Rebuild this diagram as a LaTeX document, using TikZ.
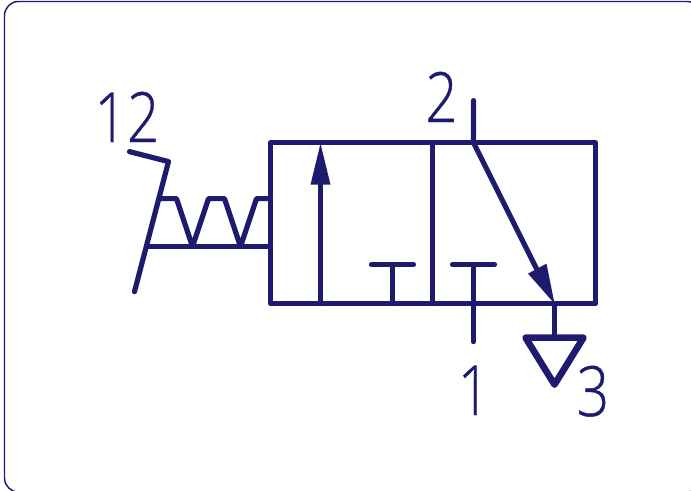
\documentclass[tikz,border=0pt]{standalone}
\usepackage{fontspec}
\usepackage{graphicx}
\setmainfont[FakeBold=0.6]{Open Sans Light}
\definecolor{ink}{RGB}{30,27,110}
\tikzset{
  sym/.style={draw=ink,line width=3.9pt,line cap=round,line join=round},
  frame/.style={draw=ink,line width=1.1pt,rounded corners=10.5pt},
  head/.style={fill=ink,draw=none},
  num/.style={text=ink,font=\fontsize{52}{52}\selectfont,inner sep=0pt,anchor=base}
}
\newcommand{\narrow}[1]{\scalebox{0.82}[1]{#1}}
\begin{document}
\begin{tikzpicture}[x=0.75pt,y=-0.75pt]
\useasboundingbox (0,0) rectangle (691,490);
\draw[frame] (4.5,1.5) rectangle (701,492);
\begin{scope}[shift={(0.5,0.6)}]
% named points
\coordinate (tl) at (270,142);
\coordinate (tr) at (595,142);
\coordinate (br) at (595,303);
\coordinate (bl) at (270,303);
\coordinate (dt) at (432,142);
\coordinate (db) at (432,303);
\coordinate (p2) at (473,100);
\coordinate (p2b) at (473,142);
\coordinate (p1) at (473,341);
\coordinate (t1) at (473,264);
\coordinate (ex) at (554,303);
\coordinate (ext) at (554,336);
% valve body
\draw[sym] (tl) -- (tr) -- (br) -- (bl) -- cycle;
\draw[sym] (dt) -- (db);
% left cell
\draw[sym] (320,303) -- (320,175);
\fill[head] (320,143) -- (330,184) -- (310,184) -- cycle;
\draw[sym] (392,303) -- (392,264);
\draw[sym] (371,264) -- (413,264);
% right cell
\draw[sym] (p2) -- (p2b) -- (540,276);
\fill[head] (554,303) -- (527.5,273) -- (546,263) -- cycle;
\draw[sym] (452,264) -- (494,264);
\draw[sym] (t1) -- (p1);
% exhaust
\draw[sym] (ex) -- (ext);
\draw[sym,line width=5pt] (525,337) -- (583,337) -- (554,384) -- cycle;
% lever and spring
\draw[sym] (129,151) -- (168,161) -- (134,291);
\draw[sym] (147,246) -- (270,246);
\draw[sym] (160,198) -- (176,198) -- (192,246) -- (208,198) -- (224,198) -- (240,246) -- (256,198) -- (270,198);
\end{scope}
% labels
\node[num] (n12) at (127,142) {\narrow{12}};
\node[num] (n2) at (441.5,122) {\narrow{2}};
\node[num] (n1) at (474,415) {\narrow{1}};
\node[num] (n3) at (593,416) {\narrow{3}};
\end{tikzpicture}
\end{document}
